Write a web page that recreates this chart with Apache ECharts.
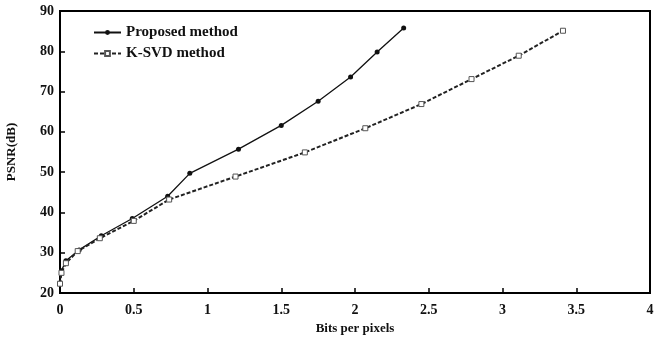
<!DOCTYPE html>
<html>
<head>
<meta charset="utf-8">
<script src="https://cdn.jsdelivr.net/npm/echarts@6/dist/echarts.min.js"></script>
<style>
    html, body { margin: 0; padding: 0; background: #fff; }
    #chart { width: 664px; height: 341px; }
</style>
</head>
<body>
<div id="chart"></div>
<script>
// values
const proposedX = [0, 0.01, 0.04, 0.13, 0.28, 0.49, 0.73, 0.88, 1.21, 1.5, 1.75, 1.97, 2.15, 2.33]
const proposedY = [22.5, 25.5, 28.0, 30.7, 34.2, 38.5, 44.0, 49.7, 55.7, 61.6, 67.6, 73.6, 79.8, 85.8]
const ksvdX = [0, 0.01, 0.04, 0.12, 0.27, 0.5, 0.74, 1.19, 1.66, 2.07, 2.45, 2.79, 3.11, 3.41]
const ksvdY = [22.3, 25.0, 27.4, 30.4, 33.6, 37.9, 43.2, 48.9, 54.9, 60.9, 66.9, 73.1, 78.9, 85.1]
const xTicks = [0, 0.5, 1, 1.5, 2, 2.5, 3, 3.5, 4]
const yTicks = [20, 30, 40, 50, 60, 70, 80, 90]

const font = 'Liberation Serif'
const pairs = (xs, ys) => xs.map((x, i) => [x, ys[i]])

const chart = echarts.init(document.getElementById('chart'), null, { renderer: 'canvas' })

chart.setOption({
    animation: false,
    textStyle: { fontFamily: font, color: '#111' },
    grid: {
        left: 60, right: 14, top: 11, bottom: 48,
        outerBoundsMode: 'none',
        show: true, borderColor: '#000', borderWidth: 2,
    },
    legend: {
        left: 88, top: 20, orient: 'vertical', itemGap: 6,
        itemWidth: 27, itemHeight: 6,
        textStyle: { fontFamily: font, fontWeight: 'bold', fontSize: 15, color: '#111' },
        data: ['Proposed method', 'K-SVD method'],
    },
    xAxis: {
        type: 'value',
        min: xTicks[0], max: xTicks[xTicks.length - 1], interval: 0.5,
        name: 'Bits per pixels', nameLocation: 'middle', nameGap: 23,
        nameTextStyle: { fontFamily: font, fontWeight: 'bold', fontSize: 13, color: '#111' },
        axisLine: { lineStyle: { color: '#000', width: 2 } },
        axisTick: { inside: true, length: 5, lineStyle: { color: '#000', width: 1.5 } },
        axisLabel: { fontFamily: font, fontWeight: 'bold', fontSize: 14, color: '#111', margin: 10 },
        splitLine: { show: false },
    },
    yAxis: {
        type: 'value',
        min: yTicks[0], max: yTicks[yTicks.length - 1], interval: 10,
        name: 'PSNR(dB)', nameLocation: 'middle', nameGap: 42, nameRotate: 90,
        nameTextStyle: { fontFamily: font, fontWeight: 'bold', fontSize: 13, color: '#111' },
        axisLine: { lineStyle: { color: '#000', width: 2 } },
        axisTick: { inside: true, length: 5, lineStyle: { color: '#000', width: 1.5 } },
        axisLabel: { fontFamily: font, fontWeight: 'bold', fontSize: 14, color: '#111', margin: 6 },
        splitLine: { show: false },
    },
    series: [
        {
            name: 'Proposed method',
            type: 'line',
            data: pairs(proposedX, proposedY),
            symbol: 'circle',
            symbolSize: 5,
            lineStyle: { color: '#111', width: 1.3 },
            itemStyle: { color: '#111' },
        },
        {
            name: 'K-SVD method',
            type: 'line',
            data: pairs(ksvdX, ksvdY),
            symbol: 'rect',
            symbolSize: 5,
            lineStyle: { color: '#222', width: 2, type: [4, 2] },
            itemStyle: { color: '#fff', borderColor: '#555', borderWidth: 1 },
        },
    ],
})
</script>
</body>
</html>
